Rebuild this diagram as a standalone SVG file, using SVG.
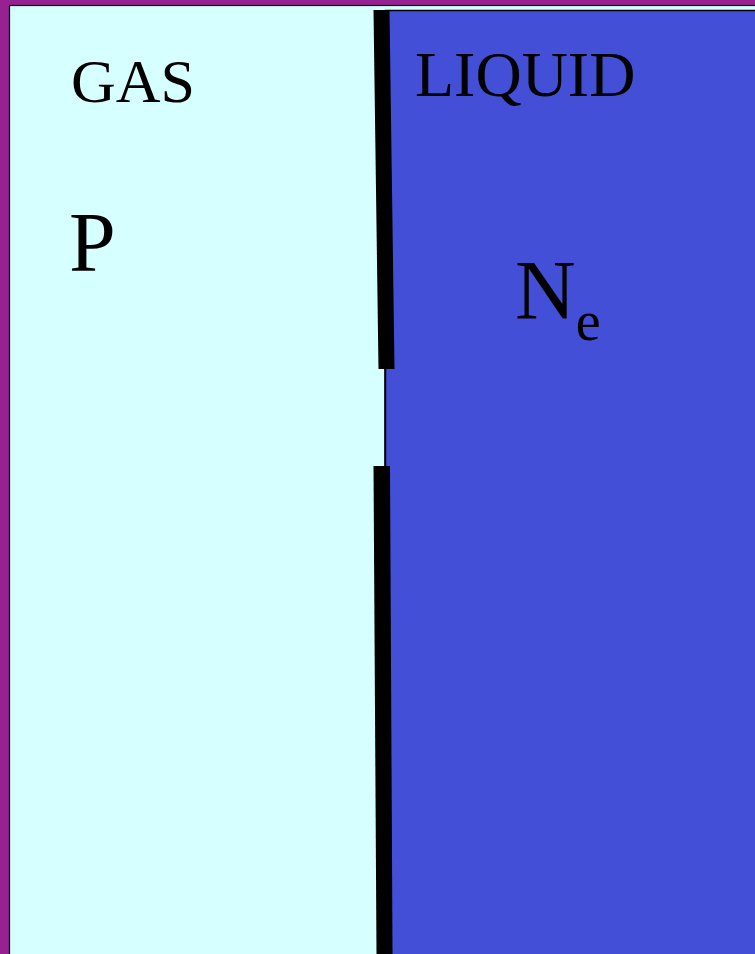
<svg xmlns="http://www.w3.org/2000/svg" width="755" height="954" viewBox="0 0 755 954">
<style>
text{font-family:"Liberation Serif","Times New Roman",serif;fill:#000}
.bar{fill:#000}
</style>
<g id="frame">
<rect x="0" y="0" width="755" height="954" fill="#952192"/>
<rect x="9.5" y="5.5" width="750" height="960" fill="#D6FFFF" stroke="#000" stroke-width="1.2"/>
</g>
<g id="gas">
<text x="71" y="102" font-size="62">GAS</text>
<text x="69" y="271" font-size="84">P</text>
</g>
<g id="liquid">
<rect x="385.5" y="10.5" width="380" height="960" fill="#434FD6" stroke="#000" stroke-width="1.5"/>
<text x="415" y="96" font-size="64">LIQUID</text>
<text x="515" y="319" font-size="84">N<tspan font-size="56" dy="21">e</tspan></text>
</g>
<g id="membrane">
<line x1="385" y1="368" x2="385" y2="467" stroke="#000" stroke-width="1.6"/>
<polygon class="bar" points="373.5,10 389.5,10 394.5,369 378.5,369"/>
<polygon class="bar" points="373.5,466 390,466 392.5,954 376.5,954"/>
</g>
</svg>
